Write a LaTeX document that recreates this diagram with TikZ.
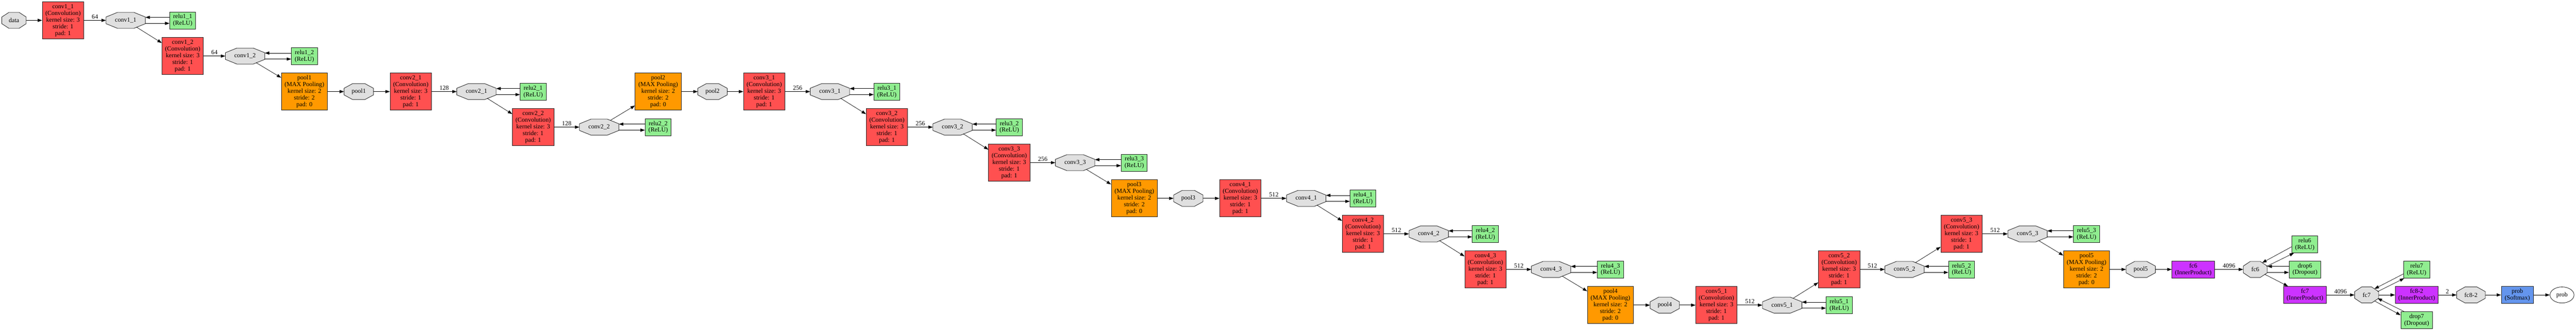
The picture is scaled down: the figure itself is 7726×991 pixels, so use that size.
\documentclass[tikz,border=0pt]{standalone}
\usepackage{fontspec}
\setmainfont{Liberation Serif}
\usetikzlibrary{shapes.geometric,arrows.meta}
\definecolor{convred}{HTML}{FF5050}
\definecolor{poolorange}{HTML}{FF9900}
\definecolor{fcpurple}{HTML}{CC33FF}
\definecolor{softblue}{HTML}{6495ED}
\definecolor{relugreen}{HTML}{90EE90}
\definecolor{blobgray}{HTML}{E0E0E0}

% octagon blob: name, x, y, half width, text
\newcommand{\blobat}[5]{%
  \filldraw[blobline] ({#2-#4},{#3-10}) -- ({#2-0.414*#4},{#3-24}) -- ({#2+0.414*#4},{#3-24})
    -- ({#2+#4},{#3-10}) -- ({#2+#4},{#3+10}) -- ({#2+0.414*#4},{#3+24})
    -- ({#2-0.414*#4},{#3+24}) -- ({#2-#4},{#3+10}) -- cycle;
  \node[blob, minimum width={1.5pt*#4}] (#1) at (#2,#3) {#5};
}

\begin{document}
\begin{tikzpicture}[x=0.75pt, y=-0.75pt,
  every node/.style={font=\fontsize{14}{15}\selectfont, align=center, inner sep=0pt},
  layer/.style={rectangle, draw=black!85, line width=1pt},
  conv/.style={layer, fill=convred, minimum width=93pt, minimum height=83.25pt},
  pool/.style={layer, fill=poolorange, minimum width=103.5pt, minimum height=83.25pt},
  relu/.style={layer, fill=relugreen, minimum width=58.5pt, minimum height=38.25pt},
  drop/.style={relu, minimum width=71.25pt},
  fc/.style={layer, fill=fcpurple, minimum width=96pt, minimum height=38.25pt},
  softmax/.style={layer, fill=softblue, minimum width=72pt, minimum height=38.25pt},
  blobline/.style={draw=black!85, line width=1pt, fill=blobgray},
  blob/.style={ellipse, minimum height=36pt},
  link/.style={-{Triangle[length=10pt,width=7pt]}, line width=0.8pt},
  lbl/.style={midway, above=3pt}
]
  \useasboundingbox (0,0) rectangle (7726,991);

  % block 1
  \blobat{data}{42}{61}{36.5}{data}
  \node[conv] (c11box) at (189,61) {conv1\_1\\(Convolution)\\kernel size: 3\\stride: 1\\pad: 1};
  \blobat{c11}{377}{61}{59}{conv1\_1}
  \node[relu] (r11) at (548,61) {relu1\_1\\(ReLU)};
  \node[conv] (c12box) at (548,168) {conv1\_2\\(Convolution)\\kernel size: 3\\stride: 1\\pad: 1};
  \blobat{c12}{735}{168}{59}{conv1\_2}
  \node[relu] (r12) at (913,168) {relu1\_2\\(ReLU)};
  \node[pool] (p1box) at (913,274.5) {pool1\\(MAX Pooling)\\kernel size: 2\\stride: 2\\pad: 0};
  \blobat{p1}{1076}{274.5}{44}{pool1}

  % block 2
  \node[conv] (c21box) at (1232,274.5) {conv2\_1\\(Convolution)\\kernel size: 3\\stride: 1\\pad: 1};
  \blobat{c21}{1429}{274.5}{59}{conv2\_1}
  \node[relu] (r21) at (1599,274.5) {relu2\_1\\(ReLU)};
  \node[conv] (c22box) at (1599,381) {conv2\_2\\(Convolution)\\kernel size: 3\\stride: 1\\pad: 1};
  \blobat{c22}{1797}{381}{59}{conv2\_2}
  \node[relu] (r22) at (1974,381) {relu2\_2\\(ReLU)};
  \node[pool] (p2box) at (1974,274.5) {pool2\\(MAX Pooling)\\kernel size: 2\\stride: 2\\pad: 0};
  \blobat{p2}{2137}{274.5}{44}{pool2}

  % block 3
  \node[conv] (c31box) at (2292,274.5) {conv3\_1\\(Convolution)\\kernel size: 3\\stride: 1\\pad: 1};
  \blobat{c31}{2489}{274.5}{59}{conv3\_1}
  \node[relu] (r31) at (2660,274.5) {relu3\_1\\(ReLU)};
  \node[conv] (c32box) at (2660,381) {conv3\_2\\(Convolution)\\kernel size: 3\\stride: 1\\pad: 1};
  \blobat{c32}{2857}{381}{59}{conv3\_2}
  \node[relu] (r32) at (3027,381) {relu3\_2\\(ReLU)};
  \node[conv] (c33box) at (3027,487.5) {conv3\_3\\(Convolution)\\kernel size: 3\\stride: 1\\pad: 1};
  \blobat{c33}{3224.5}{487.5}{59}{conv3\_3}
  \node[relu] (r33) at (3402,487.5) {relu3\_3\\(ReLU)};
  \node[pool] (p3box) at (3402,594.5) {pool3\\(MAX Pooling)\\kernel size: 2\\stride: 2\\pad: 0};
  \blobat{p3}{3564}{594.5}{44}{pool3}

  % block 4
  \node[conv] (c41box) at (3720,594.5) {conv4\_1\\(Convolution)\\kernel size: 3\\stride: 1\\pad: 1};
  \blobat{c41}{3917.5}{594.5}{59}{conv4\_1}
  \node[relu] (r41) at (4088,594.5) {relu4\_1\\(ReLU)};
  \node[conv] (c42box) at (4088,701) {conv4\_2\\(Convolution)\\kernel size: 3\\stride: 1\\pad: 1};
  \blobat{c42}{4285}{701}{59}{conv4\_2}
  \node[relu] (r42) at (4455,701) {relu4\_2\\(ReLU)};
  \node[conv] (c43box) at (4455,807.5) {conv4\_3\\(Convolution)\\kernel size: 3\\stride: 1\\pad: 1};
  \blobat{c43}{4652}{807.5}{59}{conv4\_3}
  \node[relu] (r43) at (4830,807.5) {relu4\_3\\(ReLU)};
  \node[pool] (p4box) at (4830,914.5) {pool4\\(MAX Pooling)\\kernel size: 2\\stride: 2\\pad: 0};
  \blobat{p4}{4993}{914.5}{44}{pool4}

  % block 5
  \node[conv] (c51box) at (5148,914.5) {conv5\_1\\(Convolution)\\kernel size: 3\\stride: 1\\pad: 1};
  \blobat{c51}{5345}{914.5}{59}{conv5\_1}
  \node[relu] (r51) at (5516,914.5) {relu5\_1\\(ReLU)};
  \node[conv] (c52box) at (5516,807.5) {conv5\_2\\(Convolution)\\kernel size: 3\\stride: 1\\pad: 1};
  \blobat{c52}{5712}{807.5}{59}{conv5\_2}
  \node[relu] (r52) at (5883,807.5) {relu5\_2\\(ReLU)};
  \node[conv] (c53box) at (5883,701) {conv5\_3\\(Convolution)\\kernel size: 3\\stride: 1\\pad: 1};
  \blobat{c53}{6081}{701}{59}{conv5\_3}
  \node[relu] (r53) at (6258,701) {relu5\_3\\(ReLU)};
  \node[pool] (p5box) at (6258,807.5) {pool5\\(MAX Pooling)\\kernel size: 2\\stride: 2\\pad: 0};
  \blobat{p5}{6420.5}{807.5}{44}{pool5}

  % classifier
  \node[fc] (fc6box) at (6578,807.5) {fc6\\(InnerProduct)};
  \blobat{fc6}{6764}{807.5}{36}{fc6}
  \node[relu] (relu6) at (6912.5,732) {relu6\\(ReLU)};
  \node[drop] (drop6) at (6913,807.5) {drop6\\(Dropout)};
  \node[fc] (fc7box) at (6913,884) {fc7\\(InnerProduct)};
  \blobat{fc7}{7098}{884}{36}{fc7}
  \node[relu] (relu7) at (7248,808) {relu7\\(ReLU)};
  \node[drop] (drop7) at (7248,960) {drop7\\(Dropout)};
  \node[fc] (fc8box) at (7248,884) {fc8-2\\(InnerProduct)};
  \blobat{fc8}{7411}{884}{43}{fc8-2}
  \node[softmax] (probbox) at (7550,884) {prob\\(Softmax)};
  \node[ellipse, draw=black!85, line width=1pt, fill=white, minimum width=54pt, minimum height=36pt] (prob) at (7684,884) {prob};

  % main flow
  \draw[link] (data) -- (c11box);
  \draw[link] (c11box) -- node[lbl] {64} (c11);
  \draw[link] (c11) -- (c12box);
  \draw[link] (c12box) -- node[lbl] {64} (c12);
  \draw[link] (c12) -- (p1box);
  \draw[link] (p1box) -- (p1);
  \draw[link] (p1) -- (c21box);
  \draw[link] (c21box) -- node[lbl] {128} (c21);
  \draw[link] (c21) -- (c22box);
  \draw[link] (c22box) -- node[lbl] {128} (c22);
  \draw[link] (c22) -- (p2box);
  \draw[link] (p2box) -- (p2);
  \draw[link] (p2) -- (c31box);
  \draw[link] (c31box) -- node[lbl] {256} (c31);
  \draw[link] (c31) -- (c32box);
  \draw[link] (c32box) -- node[lbl] {256} (c32);
  \draw[link] (c32) -- (c33box);
  \draw[link] (c33box) -- node[lbl] {256} (c33);
  \draw[link] (c33) -- (p3box);
  \draw[link] (p3box) -- (p3);
  \draw[link] (p3) -- (c41box);
  \draw[link] (c41box) -- node[lbl] {512} (c41);
  \draw[link] (c41) -- (c42box);
  \draw[link] (c42box) -- node[lbl] {512} (c42);
  \draw[link] (c42) -- (c43box);
  \draw[link] (c43box) -- node[lbl] {512} (c43);
  \draw[link] (c43) -- (p4box);
  \draw[link] (p4box) -- (p4);
  \draw[link] (p4) -- (c51box);
  \draw[link] (c51box) -- node[lbl] {512} (c51);
  \draw[link] (c51) -- (c52box);
  \draw[link] (c52box) -- node[lbl] {512} (c52);
  \draw[link] (c52) -- (c53box);
  \draw[link] (c53box) -- node[lbl] {512} (c53);
  \draw[link] (c53) -- (p5box);
  \draw[link] (p5box) -- (p5);
  \draw[link] (p5) -- (fc6box);
  \draw[link] (fc6box) -- node[lbl] {4096} (fc6);
  \draw[link] (fc6) -- (fc7box);
  \draw[link] (fc7box) -- node[lbl] {4096} (fc7);
  \draw[link] (fc7) -- (fc8box);
  \draw[link] (fc8box) -- node[lbl] {2} (fc8);
  \draw[link] (fc8) -- (probbox);
  \draw[link] (probbox) -- (prob);

  % in-place layers
  \draw[link] ([yshift=6.75pt]r11.west) -- ([yshift=6.75pt]c11.east);
  \draw[link] ([yshift=-6.75pt]c11.east) -- ([yshift=-6.75pt]r11.west);
  \draw[link] ([yshift=6.75pt]r12.west) -- ([yshift=6.75pt]c12.east);
  \draw[link] ([yshift=-6.75pt]c12.east) -- ([yshift=-6.75pt]r12.west);
  \draw[link] ([yshift=6.75pt]r21.west) -- ([yshift=6.75pt]c21.east);
  \draw[link] ([yshift=-6.75pt]c21.east) -- ([yshift=-6.75pt]r21.west);
  \draw[link] ([yshift=6.75pt]r22.west) -- ([yshift=6.75pt]c22.east);
  \draw[link] ([yshift=-6.75pt]c22.east) -- ([yshift=-6.75pt]r22.west);
  \draw[link] ([yshift=6.75pt]r31.west) -- ([yshift=6.75pt]c31.east);
  \draw[link] ([yshift=-6.75pt]c31.east) -- ([yshift=-6.75pt]r31.west);
  \draw[link] ([yshift=6.75pt]r32.west) -- ([yshift=6.75pt]c32.east);
  \draw[link] ([yshift=-6.75pt]c32.east) -- ([yshift=-6.75pt]r32.west);
  \draw[link] ([yshift=6.75pt]r33.west) -- ([yshift=6.75pt]c33.east);
  \draw[link] ([yshift=-6.75pt]c33.east) -- ([yshift=-6.75pt]r33.west);
  \draw[link] ([yshift=6.75pt]r41.west) -- ([yshift=6.75pt]c41.east);
  \draw[link] ([yshift=-6.75pt]c41.east) -- ([yshift=-6.75pt]r41.west);
  \draw[link] ([yshift=6.75pt]r42.west) -- ([yshift=6.75pt]c42.east);
  \draw[link] ([yshift=-6.75pt]c42.east) -- ([yshift=-6.75pt]r42.west);
  \draw[link] ([yshift=6.75pt]r43.west) -- ([yshift=6.75pt]c43.east);
  \draw[link] ([yshift=-6.75pt]c43.east) -- ([yshift=-6.75pt]r43.west);
  \draw[link] ([yshift=6.75pt]r51.west) -- ([yshift=6.75pt]c51.east);
  \draw[link] ([yshift=-6.75pt]c51.east) -- ([yshift=-6.75pt]r51.west);
  \draw[link] ([yshift=6.75pt]r52.west) -- ([yshift=6.75pt]c52.east);
  \draw[link] ([yshift=-6.75pt]c52.east) -- ([yshift=-6.75pt]r52.west);
  \draw[link] ([yshift=6.75pt]r53.west) -- ([yshift=6.75pt]c53.east);
  \draw[link] ([yshift=-6.75pt]c53.east) -- ([yshift=-6.75pt]r53.west);
  \draw[link] ([yshift=6.75pt]drop6.west) -- ([yshift=6.75pt]fc6.east);
  \draw[link] ([yshift=-6.75pt]fc6.east) -- ([yshift=-6.75pt]drop6.west);
  \draw[link] (relu6.191) -- (fc6.44);
  \draw[link] (fc6.15) -- (relu6.219);
  \draw[link] (relu7.198) -- (fc7.38);
  \draw[link] (fc7.17) -- (relu7.215);
  \draw[link] (fc7.323) -- (drop7.162);
  \draw[link] (drop7.145) -- (fc7.343);
\end{tikzpicture}
\end{document}
